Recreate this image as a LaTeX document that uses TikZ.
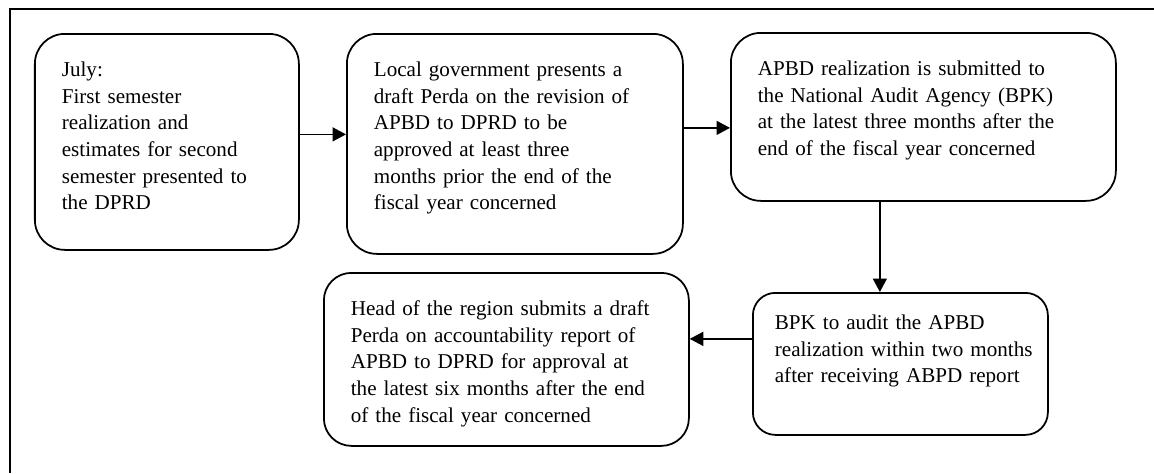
\documentclass[tikz,border=0pt]{standalone}
\usepackage{fontspec}
\setmainfont{Liberation Serif}
\usepackage{tikz}
\usetikzlibrary{arrows.meta}

\begin{document}
\begin{tikzpicture}[
    stage/.style={draw, line width=1pt, rounded corners=0.6cm, anchor=north west,
                  align=left, inner xsep=0.54cm, inner ysep=0.56cm, text height=0.3cm,
                  font=\fontsize{12}{15.1}\selectfont,
                  execute at begin node={\rightskip=-1.5cm plus 1fil}},
    flow/.style={-{Triangle[length=0.27cm, width=0.28cm]}, line width=0.9pt}
  ]
  \useasboundingbox (0,0) rectangle (23.08,-9.46);
  \draw[line width=1.1pt] (0.2,-9.46) -- (0.2,-0.18) -- (23.08,-0.18);

  \node[stage, text width=4.20cm, text depth=2.90cm] (s1) at (0.68,-0.66)
    {July:\\ First semester\\ realization and\\ estimates for second\\ semester presented to\\ the DPRD};
  \node[stage, text width=5.64cm, text depth=2.98cm] (s2) at (6.92,-0.66)
    {Local government presents a\\ draft Perda on the revision of\\ APBD to DPRD to be\\ approved at least three\\ months prior the end of the\\ fiscal year concerned};
  \node[stage, text width=6.62cm, text depth=1.94cm] (s3) at (14.60,-0.64)
    {APBD realization is submitted to\\ the National Audit Agency (BPK)\\ at the latest three months after the\\ end of the fiscal year concerned};
  \node[stage, rounded corners=0.45cm, inner xsep=0.44cm, inner ysep=0.44cm,
        text width=5.02cm, text depth=1.66cm] (s4) at (15.04,-5.84)
    {BPK to audit the APBD\\ realization within two months\\ after receiving ABPD report};
  \node[stage, rounded corners=0.55cm, text width=6.22cm, text depth=2.04cm] (s5) at (6.46,-5.44)
    {Head of the region submits a draft\\ Perda on accountability report of\\ APBD to DPRD for approval at\\ the latest six months after the end\\ of the fiscal year concerned};

  \draw[flow] ([yshift=1.5mm]s1.east) -- ([yshift=1.5mm]s1.east -| s2.west);
  \draw[flow] ([yshift=3.2mm]s2.east) -- ([yshift=3.2mm]s2.east -| s3.west);
  \draw[flow] ([xshift=-8.7mm]s3.south) -- ([xshift=-8.7mm]s3.south |- s4.north);
  \draw[flow] ([yshift=5mm]s4.west) -- ([yshift=5mm]s4.west -| s5.east);
\end{tikzpicture}
\end{document}
